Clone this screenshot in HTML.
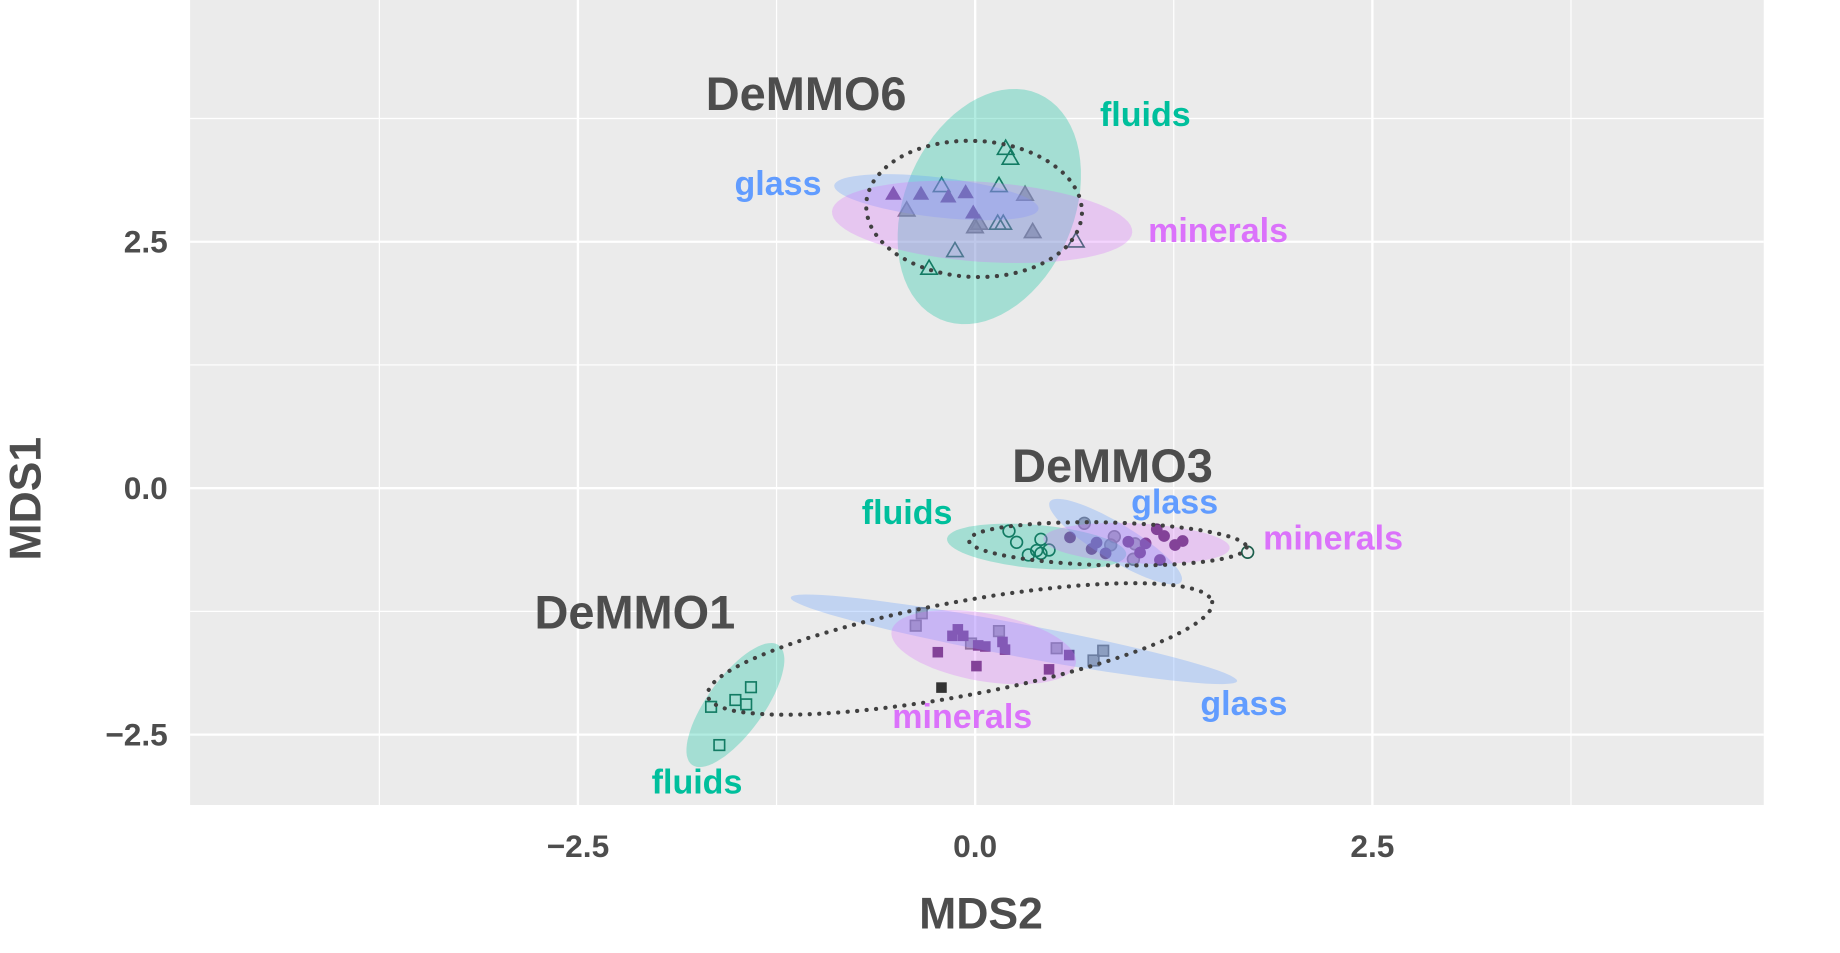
<!DOCTYPE html>
<html><head><meta charset="utf-8"><style>
html,body{margin:0;padding:0;background:#fff;}
svg{display:block;font-family:"Liberation Sans",sans-serif;font-weight:bold;}
</style></head><body>
<svg id="chart" width="1840" height="953" viewBox="0 0 1568 812.1" preserveAspectRatio="none" xmlns="http://www.w3.org/2000/svg">
<rect x="162" y="0" width="1341" height="686" fill="#EBEBEB"/>
<g id="grid"></g>
<g id="points"></g>
<g id="ellipses"></g>
<g id="labels"></g>
<g id="axes"></g>
</svg>
<script>
const xTicks=[-2.5,0,2.5];
const yTicks=[-2.5,0,2.5];
const xTickLabels=["\u22122.5","0.0","2.5"];
const yTickLabels=["\u22122.5","0.0","2.5"];
const xMinor=[-3.75,-1.25,1.25,3.75];
const yMinor=[-1.25,1.25,3.75];
// DeMMO6 triangles
const d6Fluids=[[0.192,3.447],[0.222,3.346],[-0.211,3.069],[0.150,3.069],[0.142,2.687],[0.177,2.687],[-0.127,2.409],[-0.290,2.230],[0.634,2.507]];
const d6Glass=[[-0.431,2.821],[0.026,2.687],[-0.001,2.652],[0.314,2.981],[0.362,2.602]];
const d6Minerals=[[-0.515,2.985],[-0.341,2.985],[-0.169,2.957],[-0.060,3.001],[-0.012,2.795]];
// DeMMO3 circles
const d3Fluids=[[0.213,-0.435],[0.261,-0.549],[0.414,-0.519],[0.335,-0.677],[0.387,-0.633],[0.414,-0.661],[0.465,-0.627],[1.715,-0.650]];
const d3Glass=[[0.687,-0.356],[0.876,-0.492],[0.853,-0.576],[1.006,-0.565],[0.996,-0.721]];
const d3Minerals=[[0.597,-0.499],[0.764,-0.552],[0.733,-0.617],[0.821,-0.661],[0.964,-0.543],[1.038,-0.654],[1.073,-0.560],[1.143,-0.417],[1.189,-0.485],[1.258,-0.576],[1.306,-0.536],[1.163,-0.729]];
// DeMMO1 squares
const d1Fluids=[[-1.411,-2.019],[-1.509,-2.149],[-1.441,-2.193],[-1.662,-2.218],[-1.610,-2.606]];
const d1Glass=[[-0.336,-1.269],[-0.374,-1.395],[-0.026,-1.576],[0.150,-1.450],[0.513,-1.624],[0.745,-1.748],[0.806,-1.649]];
const d1Minerals=[[-0.109,-1.432],[-0.143,-1.498],[-0.075,-1.498],[0.019,-1.595],[0.064,-1.606],[0.172,-1.560],[0.188,-1.638],[-0.235,-1.664],[0.008,-1.805],[0.592,-1.693],[0.465,-1.838]];
const d1Other=[[-0.212,-2.023]];
// ellipses: [cx, cy, ax, ay, bx, by] in data units
const ellipseNames=["d6-fluids","d6-glass","d6-minerals","d3-fluids","d3-glass","d3-minerals","d1-fluids","d1-glass","d1-minerals"];
const ellipseParams=[
[0.089,2.857,0.310,1.143,0.487,-0.344],
[-0.244,2.952,0.643,-0.119,-0.014,-0.201],
[0.044,2.702,0.945,-0.107,-0.018,-0.404],
[0.387,-0.593,0.564,-0.080,-0.012,-0.219],
[0.884,-0.543,0.414,-0.405,-0.060,-0.158],
[1.016,-0.560,0.586,-0.048,-0.007,-0.202],
[-1.509,-2.200,0.273,0.607,0.143,-0.168],
[0.244,-1.533,1.405,-0.424,-0.019,-0.164],
[0.054,-1.613,0.580,-0.164,-0.037,-0.339]];
const ellipseColors=["#00BF9C","#619CFF","#DB72FB","#00BF9C","#619CFF","#DB72FB","#00BF9C","#619CFF","#DB72FB"];
const siteEllipseNames=["demmo6-ellipse","demmo3-ellipse","demmo1-ellipse"];
const siteEllipseParams=[
[-0.007,2.833,0.679,-0.048,-0.018,-0.690],
[0.835,-0.565,0.874,-0.036,-0.004,-0.217],
[-0.096,-1.631,1.588,0.476,0.054,-0.468]];

const NS="http://www.w3.org/2000/svg";
const sx=v=>831+v*135.4, sy=v=>416-v*84;
function mk(tag,attrs,parent){const e=document.createElementNS(NS,tag);for(const k in attrs)e.setAttribute(k,attrs[k]);parent.appendChild(e);return e;}
const G=id=>document.getElementById(id);

xMinor.forEach(v=>{const l=mk('line',{x1:sx(v),x2:sx(v),y1:0,y2:686,stroke:'#fff','stroke-width':1},G('grid'));});
yMinor.forEach(v=>{const l=mk('line',{x1:162,x2:1503,y1:sy(v),y2:sy(v),stroke:'#fff','stroke-width':1},G('grid'));});
xTicks.forEach(v=>{const l=mk('line',{x1:sx(v),x2:sx(v),y1:0,y2:686,stroke:'#fff','stroke-width':2},G('grid'));});
yTicks.forEach(v=>{const l=mk('line',{x1:162,x2:1503,y1:sy(v),y2:sy(v),stroke:'#fff','stroke-width':2},G('grid'));});

const P=G('points');
function tri(d,style,name){d.forEach(p=>{const x=sx(p[0]),y=sy(p[1]);const e=mk('polygon',Object.assign({points:`${x},${y-7} ${x-7},${y+5} ${x+7},${y+5}`},style),P);});}
function circ(d,style,name){d.forEach(p=>{const e=mk('circle',Object.assign({cx:sx(p[0]),cy:sy(p[1]),r:5},style),P);});}
function sq(d,style,name){d.forEach(p=>{const e=mk('rect',Object.assign({x:sx(p[0])-4.5,y:sy(p[1])-4.5,width:9,height:9},style),P);});}
const sOpen={fill:'none',stroke:'#1b5e4b','stroke-width':1.4};
const sGlass={fill:'#808088','fill-opacity':0.7,stroke:'#707078','stroke-width':1.4};
const sMin={fill:'#5e2f6e',stroke:'none'};
tri(d6Fluids,sOpen,'demmo6-fluids-point');tri(d6Glass,sGlass,'demmo6-glass-point');tri(d6Minerals,sMin,'demmo6-minerals-point');
circ(d3Fluids,sOpen,'demmo3-fluids-point');circ(d3Glass,sGlass,'demmo3-glass-point');circ(d3Minerals,sMin,'demmo3-minerals-point');
sq(d1Fluids,sOpen,'demmo1-fluids-point');sq(d1Glass,sGlass,'demmo1-glass-point');sq(d1Minerals,sMin,'demmo1-minerals-point');
sq(d1Other,{fill:'#333'},'demmo1-other-point');

function ellPath(e){let s='';for(let i=0;i<=72;i++){const t=i/72*2*Math.PI;const x=e[0]+e[2]*Math.cos(t)+e[4]*Math.sin(t);const y=e[1]+e[3]*Math.cos(t)+e[5]*Math.sin(t);s+=(i?'L':'M')+sx(x).toFixed(1)+','+sy(y).toFixed(1);}return s+'Z';}
ellipseParams.forEach((e,i)=>{const p=mk('path',{d:ellPath(e),fill:ellipseColors[i],'fill-opacity':0.3},G('ellipses'));});
siteEllipseParams.forEach((e,i)=>{const p=mk('path',{d:ellPath(e),fill:'none',stroke:'#404040','stroke-width':3.5,'stroke-dasharray':'0.1 8','stroke-linecap':'round'},G('ellipses'));});

const labelTexts=["DeMMO6","fluids","glass","minerals","DeMMO3","fluids","glass","minerals","DeMMO1","minerals","glass","fluids"];
const labelPos=[[687,80],[976,98],[663,157],[1038,197],[948,397],[773,437],[1001,428],[1136,459],[541,522],[820,611],[1060,600],[594,667]];
const labelColors=["#4d4d4d","#00BF9C","#619CFF","#DB72FB","#4d4d4d","#00BF9C","#619CFF","#DB72FB","#4d4d4d","#DB72FB","#619CFF","#00BF9C"];
labelTexts.forEach((t,i)=>{const big=t.startsWith('DeMMO');const e=mk('text',{x:labelPos[i][0],y:labelPos[i][1],'text-anchor':'middle','dominant-baseline':'central',fill:labelColors[i],'font-size':big?40:29},G('labels'));e.textContent=t;});

const A=G('axes');
xTicks.forEach((v,i)=>{const e=mk('text',{x:sx(v),y:721,'text-anchor':'middle','dominant-baseline':'central',fill:'#4d4d4d','font-size':27},A);e.textContent=xTickLabels[i];});
yTicks.forEach((v,i)=>{const e=mk('text',{x:143,y:sy(v),'text-anchor':'end','dominant-baseline':'central',fill:'#4d4d4d','font-size':27},A);e.textContent=yTickLabels[i];});
const xt=mk('text',{x:836,y:779,'text-anchor':'middle','dominant-baseline':'central',fill:'#4d4d4d','font-size':38},A);xt.textContent='MDS2';


const yt=mk('text',{x:0,y:0,'text-anchor':'middle','dominant-baseline':'central',fill:'#4d4d4d','font-size':38,transform:'translate(22,425) rotate(-90)'},A);yt.textContent='MDS1';


</script>
</body></html>
